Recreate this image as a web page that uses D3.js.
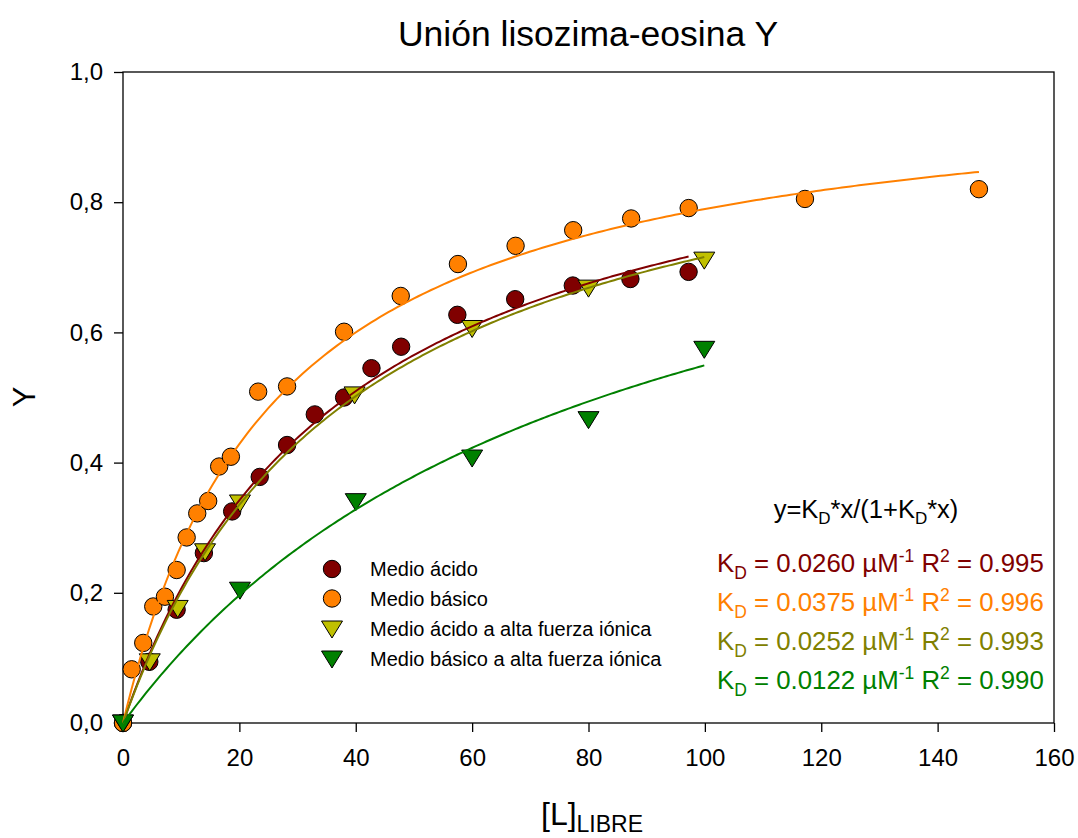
<!DOCTYPE html>
<html>
<head>
<meta charset="utf-8">
<script src="https://cdn.jsdelivr.net/npm/d3@7"></script>
<style>
  body { margin: 0; background: #fff; }
  svg { font-family: "Liberation Sans", Arial, sans-serif; }
</style>
</head>
<body>
<svg id="chart" width="1078" height="838"></svg>
<script>
// series
var seriesNames = ["Medio ácido", "Medio básico", "Medio ácido a alta fuerza iónica", "Medio básico a alta fuerza iónica"];

var acidX = [0, 4.52, 9.22, 13.9, 18.76, 23.5, 28.2, 32.96, 38.0, 42.7, 47.8, 57.46, 67.4, 77.3, 87.2, 97.2];
var acidY = [0, 0.094, 0.174, 0.261, 0.325, 0.378, 0.427, 0.474, 0.500, 0.545, 0.578, 0.627, 0.651, 0.672, 0.682, 0.693];

var basicX = [0, 1.49, 3.48, 5.2, 7.21, 9.22, 10.94, 12.76, 14.64, 16.53, 18.54, 23.23, 28.2, 37.99, 47.73, 57.56, 67.47, 77.37, 87.33, 97.22, 117.2, 147.1];
var basicY = [0, 0.0825, 0.123, 0.179, 0.194, 0.235, 0.285, 0.322, 0.341, 0.394, 0.409, 0.509, 0.517, 0.601, 0.656, 0.705, 0.733, 0.757, 0.775, 0.791, 0.805, 0.820];

var acidIonX = [0, 4.6, 9.4, 14.1, 20.1, 39.8, 60, 80, 99.9];
var acidIonY = [0, 0.094, 0.176, 0.263, 0.338, 0.504, 0.606, 0.668, 0.711];

var basicIonX = [0, 20.1, 40, 60, 80, 99.9];
var basicIonY = [0, 0.204, 0.340, 0.407, 0.466, 0.574];

// fitted constants as printed on the chart
var kdValues = [0.0260, 0.0375, 0.0252, 0.0122];
var kdText = ["0.0260", "0.0375", "0.0252", "0.0122"];
var r2Text = ["0.995", "0.996", "0.993", "0.990"];

var xTicks = [0, 20, 40, 60, 80, 100, 120, 140, 160];
var yTicks = [0, 0.2, 0.4, 0.6, 0.8, 1.0];

var markerFill = ["#800000", "#ff8000", "#c0c000", "#008000"];
var lineColor = ["#800000", "#ff8000", "#808000", "#008000"];
var textColor = ["#800000", "#ff8000", "#808000", "#008000"];
var shapes = ["circle", "circle", "tri", "tri"];

var series = [
  {x: acidX, y: acidY},
  {x: basicX, y: basicY},
  {x: acidIonX, y: acidIonY},
  {x: basicIonX, y: basicIonY}
];

var svg = d3.select("#chart");

var x = d3.scaleLinear().domain([0, 160]).range([123, 1054]);
var y = d3.scaleLinear().domain([0, 1]).range([723, 72]);

// frame
svg.append("rect")
  .attr("x", x(0)).attr("y", y(1))
  .attr("width", x(160) - x(0)).attr("height", y(0) - y(1))
  .attr("fill", "none").attr("stroke", "#000").attr("stroke-width", 1.3);

var fmtY = function(d) { return d3.format(".1f")(d).replace(".", ","); };

var yAxis = svg.append("g")
  .attr("transform", "translate(" + x(0) + ",0)")
  .call(d3.axisLeft(y).tickValues(yTicks).tickFormat(fmtY).tickSize(9).tickPadding(11));

var xAxis = svg.append("g")
  .attr("transform", "translate(0," + y(0) + ")")
  .call(d3.axisBottom(x).tickValues(xTicks).tickSize(9).tickPadding(17));

svg.selectAll(".domain").remove();
svg.selectAll(".tick line").attr("stroke", "#000").attr("stroke-width", 1.3);
svg.selectAll(".tick text")
  .style("font-family", "'Liberation Sans', Arial, sans-serif")
  .style("font-size", "24px").attr("fill", "#000");

// markers
var triPath = "M-10.5,-8 L10.5,-8 L0,9 Z";
series.forEach(function(s, i) {
  var pts = s.x.map(function(v, j) { return [v, s.y[j]]; });
  var g = svg.append("g").attr("class", "markers");
  if (shapes[i] == "circle") {
    g.selectAll("circle").data(pts).enter().append("circle")
      .attr("cx", function(d) { return x(d[0]); })
      .attr("cy", function(d) { return y(d[1]); })
      .attr("r", 8.7)
      .attr("fill", markerFill[i]).attr("stroke", "#000").attr("stroke-width", 1);
  } else {
    g.selectAll("path").data(pts).enter().append("path")
      .attr("d", triPath)
      .attr("transform", function(d) { return "translate(" + x(d[0]) + "," + y(d[1]) + ")"; })
      .attr("fill", markerFill[i]).attr("stroke", "#000").attr("stroke-width", 1);
  }
});

// fit curves y = Kd*x/(1+Kd*x), from 0 to the last measured x
var line = d3.line().x(function(d) { return x(d[0]); }).y(function(d) { return y(d[1]); });
series.forEach(function(s, i) {
  var xmax = d3.max(s.x), k = kdValues[i];
  var curve = d3.range(0, 201).map(function(t) {
    var xv = xmax * t / 200;
    return [xv, k * xv / (1 + k * xv)];
  });
  svg.append("path").datum(curve)
    .attr("d", line)
    .attr("fill", "none").attr("stroke", lineColor[i]).attr("stroke-width", 2);
});

// title and axis labels
svg.append("text")
  .attr("x", 588).attr("y", 46)
  .attr("text-anchor", "middle")
  .style("font-size", "35.5px")
  .text("Unión lisozima-eosina Y");

svg.append("text")
  .attr("transform", "translate(35,397) rotate(-90)")
  .attr("text-anchor", "middle")
  .style("font-size", "31px")
  .text("Y");

var xl = svg.append("text")
  .attr("x", 541).attr("y", 825)
  .style("font-size", "32px");
xl.append("tspan").text("[L]");
xl.append("tspan").attr("dy", 7).style("font-size", "23px").text("LIBRE");

// legend
var legend = svg.append("g").attr("class", "legend");
var legY = [569, 598.5, 629, 659];
seriesNames.forEach(function(name, i) {
  var row = legend.append("g").attr("transform", "translate(332," + legY[i] + ")");
  if (shapes[i] == "circle") {
    row.append("circle").attr("r", 8.7)
      .attr("fill", markerFill[i]).attr("stroke", "#000").attr("stroke-width", 1);
  } else {
    row.append("path").attr("d", triPath)
      .attr("fill", markerFill[i]).attr("stroke", "#000").attr("stroke-width", 1);
  }
  row.append("text")
    .attr("x", 38).attr("y", 7)
    .style("font-size", "20px")
    .text(name);
});

// equation and constants
var eq = svg.append("text")
  .attr("x", 866).attr("y", 518)
  .attr("text-anchor", "middle")
  .style("font-size", "25.5px");
eq.append("tspan").text("y=K");
eq.append("tspan").attr("dy", 6).style("font-size", "17px").text("D");
eq.append("tspan").attr("dy", -6).text("*x/(1+K");
eq.append("tspan").attr("dy", 6).style("font-size", "17px").text("D");
eq.append("tspan").attr("dy", -6).text("*x)");

var kdY = [572, 611, 650, 689];
kdText.forEach(function(kd, i) {
  var t = svg.append("text")
    .attr("x", 717).attr("y", kdY[i])
    .attr("fill", textColor[i])
    .style("font-size", "25.8px");
  t.append("tspan").text("K");
  t.append("tspan").attr("dy", 7).style("font-size", "17.5px").text("D");
  t.append("tspan").attr("dy", -7).text(" = " + kd + " µM");
  t.append("tspan").attr("dy", -10).style("font-size", "17.5px").text("-1");
  t.append("tspan").attr("dy", 10).text(" R");
  t.append("tspan").attr("dy", -10).style("font-size", "17.5px").text("2");
  t.append("tspan").attr("dy", 10).text(" = " + r2Text[i]);
});
</script>
</body>
</html>
